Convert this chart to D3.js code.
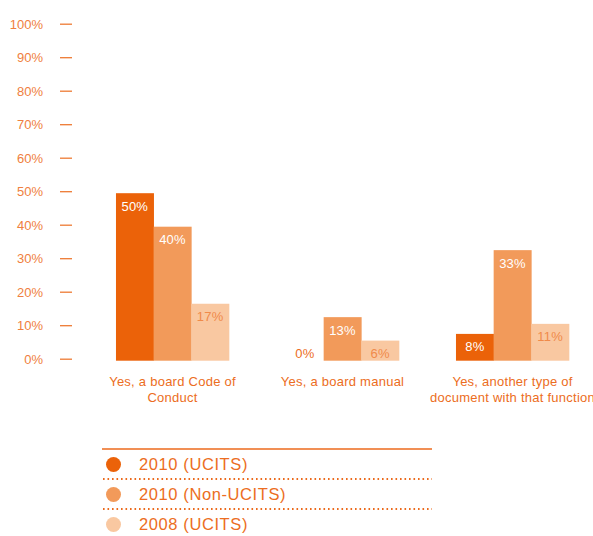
<!DOCTYPE html>
<html>
<head>
<meta charset="utf-8">
<script src="https://cdn.jsdelivr.net/npm/d3@7"></script>
<style>
  body { margin: 0; background: #fff; }
  svg { font-family: "Liberation Sans", Arial, sans-serif; }
</style>
</head>
<body>
<div id="content"></div>
<script>
// chart values
var categories = ["Yes, a board Code of|Conduct", "Yes, a board manual", "Yes, another type of|document with that function"];
var seriesNames = ["2010 (UCITS)", "2010 (Non-UCITS)", "2008 (UCITS)"];
var ucits2010 = [50, 0, 8];
var nonUcits2010 = [40, 13, 33];
var ucits2008 = [17, 6, 11];
var yTicks = [0, 10, 20, 30, 40, 50, 60, 70, 80, 90, 100];

var colors = ["#EB6209", "#F29A5A", "#F9C8A1"];
var textColor = "#EC6D22";

var svg = d3.select("#content").append("svg").attr("width", 593).attr("height", 536);

var x = d3.scaleBand().domain(d3.range(categories.length))
    .range([87.5, 597.5]).paddingInner(0.335).paddingOuter(0.1675);
var xs = d3.scaleBand().domain(d3.range(3)).range([0, x.bandwidth()]);
var y = d3.scaleLinear().domain([0, 100]).range([360.7, 25.7]);

// y axis: short dashes with labels
var yAxis = svg.append("g");
yTicks.forEach(function(t) {
    yAxis.append("line")
        .attr("x1", 60).attr("x2", 72)
        .attr("y1", y(t) - 1.5).attr("y2", y(t) - 1.5)
        .attr("stroke", "#EE7A33").attr("stroke-width", 1.3);
    yAxis.append("text")
        .attr("x", 43).attr("y", y(t) - 1.5).attr("dy", "0.35em")
        .attr("text-anchor", "end")
        .attr("font-size", 13).attr("fill", "#EF8040")
        .text(t + "%");
});

var data = categories.map(function(c, i) {
    return [ucits2010[i], nonUcits2010[i], ucits2008[i]];
});

var groups = svg.selectAll(".grp").data(data).enter().append("g")
    .attr("class", "grp")
    .attr("transform", function(d, i) { return "translate(" + x(i) + ",0)"; });

groups.selectAll("rect").data(function(d) { return d; }).enter().append("rect")
    .attr("x", function(d, j) { return xs(j); })
    .attr("y", function(d) { return y(d); })
    .attr("width", xs.bandwidth() + 0.3)
    .attr("height", function(d) { return y(0) - y(d); })
    .attr("fill", function(d, j) { return colors[j]; });

groups.selectAll(".val").data(function(d) { return d; }).enter().append("text")
    .attr("class", "val")
    .attr("x", function(d, j) { return xs(j) + xs.bandwidth() / 2; })
    .attr("y", function(d) { return d === 0 ? y(0) - 7 : y(d) + 13; })
    .attr("dy", "0.35em")
    .attr("text-anchor", "middle")
    .attr("font-size", 13).attr("letter-spacing", 0.2)
    .attr("fill", function(d, j) {
        if (d === 0) return textColor;
        return j === 2 ? "#F08A4A" : "#fff";
    })
    .text(function(d) { return d + "%"; });

// category labels
categories.forEach(function(c, i) {
    var lines = c.split("|");
    var t = svg.append("text")
        .attr("x", x(i) + x.bandwidth() / 2).attr("y", 386)
        .attr("text-anchor", "middle")
        .attr("font-size", 13).attr("letter-spacing", 0.25).attr("fill", textColor);
    lines.forEach(function(l, k) {
        t.append("tspan").attr("x", x(i) + x.bandwidth() / 2)
            .attr("dy", k === 0 ? 0 : 16).text(l);
    });
});

// legend
var legend = svg.append("g");
legend.append("line")
    .attr("x1", 102).attr("x2", 432).attr("y1", 449).attr("y2", 449)
    .attr("stroke", "#EC6A1C").attr("stroke-width", 1.5);
[479, 509].forEach(function(ly) {
    legend.append("line")
        .attr("x1", 103).attr("x2", 432).attr("y1", ly).attr("y2", ly)
        .attr("stroke", "#EC6A1C").attr("stroke-width", 2)
        .attr("stroke-dasharray", "1.6,2.9").attr("stroke-linecap", "butt");
});
var items = legend.selectAll(".item").data(seriesNames).enter().append("g")
    .attr("class", "item")
    .attr("transform", function(d, i) { return "translate(0," + (464.5 + i * 30) + ")"; });
items.append("circle")
    .attr("cx", 113.5).attr("cy", 0).attr("r", 7.5)
    .attr("fill", function(d, i) { return colors[i]; });
items.append("text")
    .attr("x", 139).attr("y", 0).attr("dy", "0.35em")
    .attr("font-size", 16.5).attr("letter-spacing", 0.6).attr("fill", textColor)
    .text(function(d) { return d; });
</script>
</body>
</html>
